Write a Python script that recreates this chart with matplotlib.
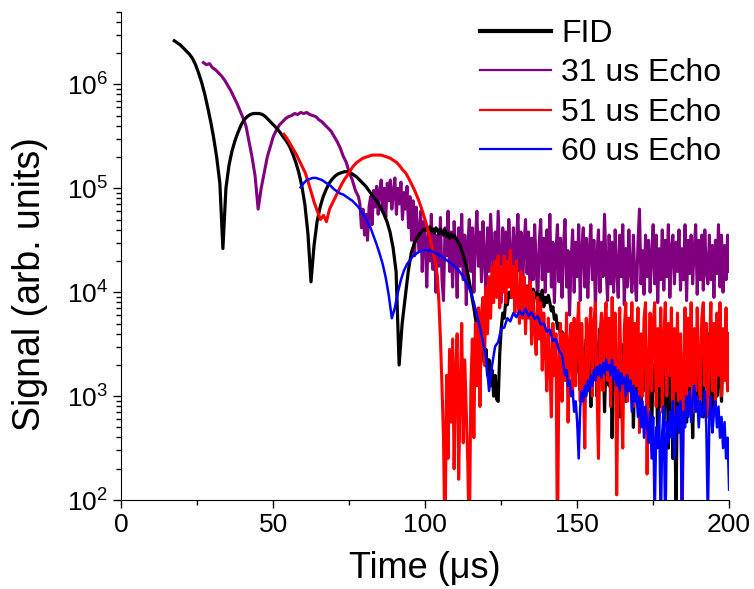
import numpy as np
import matplotlib
matplotlib.use("Agg")
import matplotlib.pyplot as plt
from matplotlib.ticker import MultipleLocator, LogLocator

plt.rcParams['font.family'] = ['Liberation Sans', 'DejaVu Sans']
plt.rcParams['mathtext.fontset'] = 'custom'
plt.rcParams['mathtext.rm'] = 'Liberation Sans'
plt.rcParams['mathtext.it'] = 'Liberation Sans:italic'

# values are log10(signal)
# smooth parts sampled every 1 us, noisy parts every 0.5 us

# FID
fid_t0 = 17.4
fid_smooth = [6.42, 6.40, 6.38, 6.35, 6.32, 6.29, 6.25, 6.19, 6.11, 6.02,
              5.91, 5.78, 5.64, 5.48, 5.29, 5.05, 4.42, 5.00, 5.22, 5.36,
              5.46, 5.54, 5.61, 5.66, 5.69, 5.71, 5.72, 5.72, 5.72, 5.71,
              5.69, 5.66, 5.63, 5.60, 5.57, 5.53, 5.49, 5.45, 5.40, 5.33,
              5.25, 5.15, 5.02, 4.84, 4.56, 4.10, 4.45, 4.68, 4.82, 4.92,
              4.99, 5.05, 5.09, 5.12, 5.14, 5.15, 5.16, 5.16, 5.15, 5.13,
              5.11, 5.08, 5.05, 5.02, 4.98, 4.94, 4.90, 4.86, 4.81, 4.75,
              4.68, 4.58, 4.43, 4.20, 3.30, 3.70, 3.95, 4.20, 4.38, 4.47,
              4.53, 4.57, 4.60]
fid_t1 = 100.0
fid_noisy = [4.60, 4.62, 4.58, 4.63, 4.59, 4.61, 4.57, 4.62, 4.60, 4.56, 4.61,
             4.58, 4.55, 4.60, 4.54, 4.57, 4.52, 4.56, 4.53, 4.55, 4.52,
             4.50, 4.47, 4.45, 4.40, 4.36, 4.30, 4.25, 4.18, 4.10, 4.02, 3.93, 3.85,
             3.75, 3.66, 3.58, 3.45, 3.60, 3.40, 3.30, 3.45, 3.20, 3.35, 3.10, 3.25,
             3.00, 3.20, 2.97, 2.95,
             3.40, 3.65, 3.80, 3.75, 3.92, 3.88, 4.00, 3.95, 4.05, 4.00, 4.08, 4.02,
             4.05, 3.95, 4.08, 3.98, 4.04, 3.92, 4.06, 3.97, 4.02, 3.90, 4.03, 3.95,
             4.00, 3.88, 3.98, 3.92, 4.02, 3.86, 3.95, 3.90, 3.97,
             3.90, 3.82, 3.86, 3.74, 3.78, 3.65, 3.70, 3.58, 3.62, 3.50, 3.55, 3.42,
             3.48, 3.35, 3.40, 3.28, 3.35, 3.22, 3.30,
             3.38, 3.05, 3.45, 2.95, 3.35, 3.55, 3.10, 3.40, 2.90, 3.45,
             3.25, 3.60, 3.00, 3.42, 3.65, 3.15, 3.50, 2.85, 3.38, 3.55,
             3.10, 3.45, 2.60, 3.35, 3.60, 3.00, 3.40, 2.80, 3.50, 3.20,
             3.45, 2.95, 3.38, 3.65, 3.05, 3.45, 2.70, 3.30, 3.50, 2.95,
             3.40, 2.85, 3.35, 3.60, 3.05, 3.42, 2.90, 3.35, 2.65, 3.30,
             3.05, 3.40, 2.60, 3.25, 2.90, 3.35, 2.70, 3.20, 3.45, 2.50,
             3.10, 3.30, 2.40, 3.20, 1.95, 3.05, 3.35, 2.65, 3.25, 2.85,
             3.30, 2.75, 3.45, 3.05, 3.35, 2.60, 3.25, 3.55, 2.95, 3.40,
             3.15, 3.55, 2.80, 3.38, 3.10, 3.60, 2.90, 3.45, 2.70, 3.35,
             3.50, 3.00, 3.65, 3.20, 2.95, 3.55, 3.25, 3.75, 3.10, 3.60]

# 31 us echo
e31_t0 = 27.0
e31_smooth = [6.21, 6.19, 6.20, 6.16, 6.14, 6.11, 6.08, 6.04, 5.99, 5.94,
              5.88, 5.82, 5.75, 5.68, 5.60, 5.45, 5.30, 5.12, 4.80, 5.00,
              5.15, 5.30, 5.40, 5.50, 5.56, 5.61, 5.64, 5.67, 5.69, 5.70,
              5.72, 5.71, 5.73, 5.72, 5.73, 5.71, 5.70, 5.69, 5.66, 5.64,
              5.61, 5.58, 5.55, 5.50, 5.45, 5.39, 5.31, 5.25, 5.15, 5.08,
              4.98, 4.92]
e31_t1 = 78.5
e31_noisy = [4.85, 4.62, 4.80, 4.55, 4.75, 4.50, 4.82, 4.92, 4.65, 4.98,
             4.82, 5.02, 4.75, 4.97, 5.08, 4.80, 5.00, 4.72, 5.05, 4.88,
             5.08, 4.80, 4.96, 5.10, 4.75, 5.00, 4.85, 5.06, 4.70, 4.96,
             4.80, 5.02, 4.62, 4.92, 4.50, 4.88, 4.35, 4.82, 4.60, 4.40,
             4.78, 4.20, 4.68, 4.50, 4.05, 4.62, 4.30, 4.75, 4.22, 4.58,
             4.00, 4.55, 4.25, 4.72, 4.12, 3.92, 4.62, 4.35, 4.78, 4.20,
             4.58, 4.05, 4.68, 4.40, 3.95, 4.62, 4.25, 4.75, 4.12, 4.55,
             3.88, 4.45, 4.70, 4.20, 4.62, 4.00, 4.50, 4.78, 4.25, 4.58,
             4.10, 4.68, 4.35, 3.95, 4.62, 4.20, 4.75, 4.42, 4.05, 4.58,
             4.25, 4.78, 4.35, 3.90, 4.62, 4.18, 4.58, 4.05, 4.70, 4.35,
             4.12, 4.62, 3.88, 4.50, 4.75, 4.20, 4.58, 4.00, 4.45, 4.70,
             4.18, 4.58, 3.95, 4.52, 4.12, 4.65, 4.28, 3.85, 4.48, 4.70,
             4.12, 4.52, 4.00, 4.60, 4.20, 4.75, 4.05, 4.48, 3.90, 4.38,
             4.65, 4.10, 4.52, 3.95, 4.45, 4.70, 4.05, 4.40, 3.78, 4.30,
             4.60, 4.00, 4.48, 4.15, 4.65, 3.92, 4.40, 4.62, 4.05, 4.52,
             3.95, 4.42, 4.65, 4.12, 4.50, 3.85, 4.35, 4.60, 4.00, 4.48,
             4.15, 4.75, 4.25, 3.92, 4.55, 4.08, 4.48, 4.00, 4.60, 4.22,
             3.95, 4.55, 4.15, 4.65, 3.88, 4.42, 4.05, 4.60, 4.20, 4.00,
             4.55, 4.12, 3.92, 4.48, 4.80, 4.08, 4.40, 3.98, 4.55, 4.15,
             4.50, 4.00, 4.35, 4.65, 4.08, 4.55, 3.90, 4.42, 4.12, 4.60,
             4.02, 4.50, 4.15, 4.65, 3.95, 4.42, 4.55, 4.08, 4.48, 4.20,
             4.60, 4.02, 4.42, 4.12, 4.65, 3.92, 4.50, 4.18, 4.55, 4.08,
             4.42, 4.65, 3.98, 4.50, 4.12, 4.55, 4.02, 4.60, 4.20, 4.08,
             4.55, 4.12, 4.45, 3.95, 4.50, 4.18, 4.65, 4.05, 4.55, 4.00,
             4.45, 4.12, 4.55, 4.20]

# 51 us echo
e51_t0 = 53.5
e51_smooth = [5.52, 5.48, 5.43, 5.38, 5.33, 5.27, 5.21, 5.15, 5.06, 4.96,
              4.86, 4.78, 4.70, 4.74, 4.68, 4.80, 4.86, 4.92, 4.98, 5.04,
              5.09, 5.13, 5.18, 5.22, 5.25, 5.27, 5.29, 5.30, 5.31, 5.32,
              5.32, 5.32, 5.32, 5.31, 5.30, 5.29, 5.27, 5.25, 5.22, 5.18,
              5.15, 5.10, 5.04, 4.98, 4.91, 4.83, 4.74, 4.64, 4.53, 4.40,
              4.26]
e51_t1 = 104.0
e51_noisy = [4.15, 3.90, 3.55, 3.10, 2.60, 1.50, 3.20, 2.40, 3.45, 2.75,
             3.55, 2.30, 3.25, 3.60, 2.20, 3.05, 3.70, 2.55, 3.35, 2.85,
             2.35, 1.50, 3.10, 3.55, 2.60, 3.70, 3.10, 3.85, 2.90, 3.80,
             3.95, 3.30, 4.05, 3.60, 4.15, 3.75, 4.25, 3.90, 4.30, 3.95,
             4.35, 3.85, 4.25, 4.00, 4.35, 3.90, 4.30, 4.05, 4.40, 3.95,
             4.25, 3.80, 4.30, 3.95, 3.70, 4.20, 3.75, 4.15, 3.60, 4.05,
             3.75, 4.10, 3.50, 4.00, 3.65, 3.40, 3.95, 3.55, 3.90, 3.25,
             3.80, 3.45, 3.05, 3.75, 3.30, 2.80, 3.70, 3.20, 3.60, 1.50,
             3.30, 3.70, 2.95, 3.60, 3.15, 3.80, 2.75, 3.50, 3.70, 3.00,
             3.75, 3.10, 3.65, 3.90, 2.95, 3.70, 3.20, 2.50, 3.75, 3.05,
             3.65, 3.85, 3.00, 3.70, 3.90, 3.10, 2.40, 3.60, 3.80, 3.05,
             3.70, 3.90, 3.15, 3.75, 2.90, 3.95, 3.20, 3.80, 2.05, 3.30,
             3.85, 3.05, 2.50, 3.65, 3.90, 2.95, 3.75, 3.15, 3.90, 2.90,
             3.70, 3.10, 3.85, 2.65, 3.60, 3.00, 3.75, 3.90, 2.25, 3.30,
             3.80, 3.05, 3.70, 3.90, 2.90, 3.65, 3.10, 3.85, 2.85, 3.55,
             3.90, 3.00, 3.70, 3.20, 3.85, 2.80, 3.65, 3.05, 3.80, 2.95,
             3.60, 1.50, 3.30, 3.85, 3.00, 3.75, 3.10, 3.90, 2.85, 3.65,
             3.05, 3.85, 3.30, 2.90, 3.75, 3.90, 3.10, 3.70, 2.80, 3.45,
             3.90, 3.05, 3.70, 2.95, 3.80, 3.20, 3.90, 3.00, 3.65, 3.15,
             3.85, 3.05, 3.60]

# 60 us echo
e60_t0 = 59.0
e60_smooth = [5.01, 5.05, 5.08, 5.09, 5.10, 5.10, 5.09, 5.08, 5.06, 5.04,
              5.02, 4.99, 4.97, 4.95, 4.94, 4.92, 4.90, 4.88, 4.85, 4.82,
              4.78, 4.73, 4.68, 4.62, 4.54, 4.46, 4.37, 4.27, 4.14, 3.97,
              3.75, 3.85, 4.00, 4.12, 4.21, 4.27, 4.31, 4.35, 4.37, 4.39,
              4.40, 4.41, 4.40, 4.40, 4.38, 4.37, 4.35, 4.33, 4.31, 4.29,
              4.27, 4.24, 4.21, 4.17, 4.12, 4.07, 4.00, 3.90, 3.78, 3.66,
              3.52, 3.38, 3.05, 3.30, 3.48, 3.52, 3.65, 3.66, 3.75, 3.72,
              3.80, 3.76, 3.82, 3.78, 3.84, 3.77, 3.81, 3.74, 3.77, 3.69,
              3.70, 3.62, 3.64, 3.53, 3.55, 3.44, 3.40]
e60_t1 = 145.5
e60_noisy = [3.30, 3.20, 3.25, 3.10, 3.15, 3.00, 3.05, 2.85, 2.95, 2.75,
             2.40, 2.90, 3.05, 2.95, 3.10, 3.00, 3.15, 3.05, 3.20, 3.10,
             3.25, 3.15, 3.28, 3.20, 3.30, 3.18, 3.32, 3.22, 3.35, 3.25,
             3.30, 3.20, 3.35, 3.15, 3.28, 3.10, 3.25, 3.05, 3.22, 3.12,
             3.18, 3.00, 3.20, 3.05, 3.15, 2.85, 3.10, 2.95, 3.05, 2.80,
             3.00, 2.70, 2.95, 2.60, 2.90, 2.75, 2.55, 2.85, 2.40, 2.80,
             1.80, 2.70, 2.50, 2.85, 1.70, 2.65, 2.90, 1.60, 2.75, 2.55,
             2.85, 2.60, 2.95, 2.40, 2.80, 2.90, 2.65, 2.95, 1.70, 2.85,
             2.70, 3.00, 2.80, 3.05, 2.75, 2.95, 3.10, 2.85, 3.00, 2.70,
             2.95, 2.80, 2.85, 3.05, 2.70, 1.80, 2.80, 3.00, 2.65, 2.85,
             2.95, 2.70, 2.90, 2.60, 2.80, 2.50, 2.75, 2.40, 2.60, 2.10]

labels = ['FID', '31 us Echo', '51 us Echo', '60 us Echo']
colors = ['black', '#800080', '#ff0000', '#0000ff']


def series(t0, smooth, t1, noisy):
    t = np.concatenate([t0 + np.arange(len(smooth)) * 1.0,
                        t1 + np.arange(len(noisy)) * 0.5])
    y = 10 ** np.concatenate([smooth, noisy])
    return t, y


data = [series(fid_t0, fid_smooth, fid_t1, fid_noisy),
        series(e31_t0, e31_smooth, e31_t1, e31_noisy),
        series(e51_t0, e51_smooth, e51_t1, e51_noisy),
        series(e60_t0, e60_smooth, e60_t1, e60_noisy)]
widths = [2.3, 2.2, 2.2, 1.8]
zorders = [3, 2, 4, 5]

fig = plt.figure(figsize=(7.54, 5.89), dpi=100)
ax = fig.add_axes([0.161, 0.151, 0.806, 0.829])

for (t, y), lab, c, w, z in zip(data, labels, colors, widths, zorders):
    ax.plot(t, y, color=c, lw=w, label=lab, zorder=z)

ax.set_yscale('log')
ax.set_xlim(0, 200)
ax.set_ylim(1e2, 5e6)
ax.xaxis.set_major_locator(MultipleLocator(50))
ax.xaxis.set_minor_locator(MultipleLocator(25))
ax.yaxis.set_minor_locator(LogLocator(base=10, subs=np.arange(2, 10)))

for s in ['top', 'right']:
    ax.spines[s].set_visible(False)
ax.tick_params(which='major', direction='out', length=6, width=1, labelsize=19)
ax.tick_params(which='minor', direction='out', length=3.5, width=1)

ax.set_xlabel('Time (\u03bcs)', fontsize=26, labelpad=10)
ax.set_ylabel('Signal (arb. units)', fontsize=27)
ax.yaxis.set_label_coords(-0.12, 0.443)

leg = ax.legend(loc='upper right', bbox_to_anchor=(1.008, 1.012), frameon=False,
                fontsize=23, handlelength=2.25, handletextpad=0.3,
                labelspacing=0.3, borderaxespad=0)
for line, w in zip(leg.get_lines(), [3.0, 1.6, 1.6, 1.6]):
    line.set_linewidth(w)

fig.savefig('out.png', dpi=100)
